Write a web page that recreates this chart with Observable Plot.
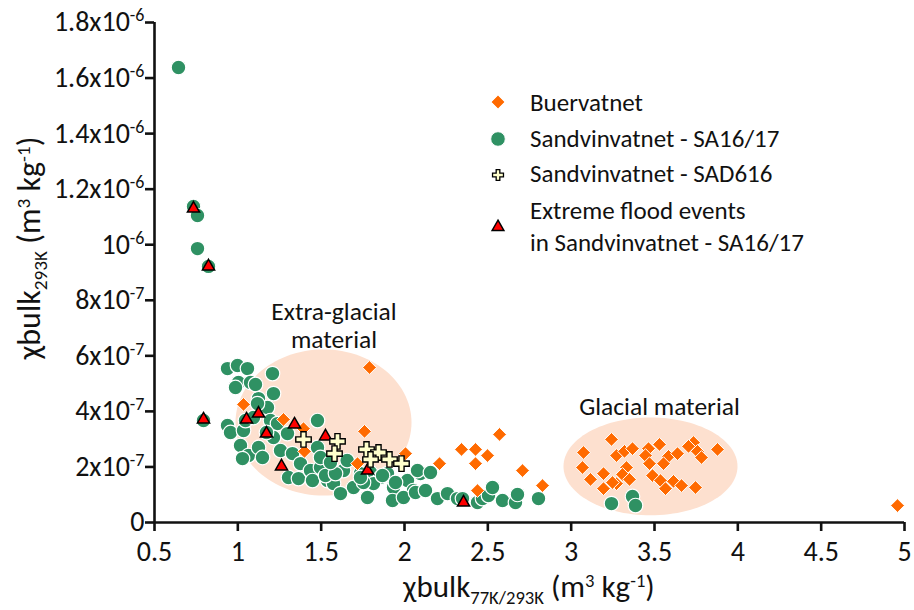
<!DOCTYPE html>
<html><head><meta charset="utf-8">
<script src="https://cdn.jsdelivr.net/npm/d3@7"></script>
<script src="https://cdn.jsdelivr.net/npm/@observablehq/plot@0.6"></script>
<style>
body{margin:0;background:#fff;}
#chart{position:relative;width:914px;height:610px;}
</style></head><body><div id="chart"></div>
<script>
// values: x = χbulk 77K/293K ; y = χbulk 293K in units of 1e-7 m3 kg-1
const buerX = [1.034,1.274,1.394,1.400,1.790,1.760,1.718,2.006,2.210,2.342,2.426,2.498,2.570,2.426,2.708,2.828,2.438,4.958,
  3.074,3.242,3.068,3.116,3.194,3.194,3.272,3.320,3.368,3.332,3.308,3.272,3.350,3.248,3.464,3.446,3.530,3.470,3.584,3.638,3.554,3.488,3.536,3.566,3.614,3.662,3.734,3.704,3.758,3.782,3.878,3.746];
const buerY = [4.25,3.71,3.38,2.56,5.58,3.28,2.12,2.48,2.12,2.63,2.63,2.41,3.17,2.12,1.87,1.33,1.15,0.61,
  2.52,2.99,1.98,1.55,1.76,1.22,2.41,2.56,2.66,1.98,1.73,1.40,1.55,1.44,2.66,2.41,2.81,2.12,2.38,2.48,2.12,1.69,1.51,1.22,1.48,1.33,2.88,2.74,2.56,2.34,2.63,1.26];

const saX = [0.644,0.734,0.758,0.758,0.824,0.794,0.938,0.998,1.058,1.004,1.076,1.106,1.208,1.124,1.214,1.178,0.986,
  0.938,0.956,1.034,1.046,1.094,1.118,1.196,1.238,1.214,1.298,1.016,1.064,1.028,1.124,1.148,1.256,1.328,1.376,1.304,1.364,1.436,
  1.478,1.478,1.496,1.448,1.538,1.574,1.634,1.694,1.736,1.796,1.856,1.898,1.934,2.018,2.054,2.096,1.928,1.994,1.814,1.778,1.616,
  1.496,1.526,1.586,1.754,1.868,1.946,2.078,2.156,2.066,2.126,2.198,2.258,2.318,2.348,2.438,2.468,2.504,2.528,2.588,2.666,2.678,2.804,
  3.242,3.368,3.386,1.172,1.736,1.656,1.556];
const saY = [16.38,11.38,11.05,9.86,9.22,3.67,5.54,5.65,5.54,5.04,5.04,4.97,5.36,4.46,4.64,4.14,4.86,
  3.49,3.24,3.31,3.67,3.78,4.28,3.67,3.56,3.06,3.20,2.77,2.41,2.30,2.70,2.34,2.59,2.48,2.12,1.62,1.58,1.87,
  3.67,2.70,1.98,1.51,1.51,1.40,1.87,1.26,1.76,1.80,1.62,1.76,1.26,1.51,1.15,1.76,0.79,0.90,1.40,0.90,1.04,
  2.34,1.69,1.76,1.44,1.69,1.44,1.87,1.80,1.08,1.15,0.86,1.04,0.86,0.86,0.72,0.86,0.97,1.26,0.79,0.72,1.01,0.86,
  0.68,0.94,0.61,3.24,1.62,2.23,2.16];

const sadX = [1.394,1.598,1.580,1.772,1.844,1.796,1.910,1.982];
const sadY = [2.99,2.92,2.48,2.63,2.52,2.27,2.27,2.12];

const floodX = [0.734,0.824,0.794,1.052,1.124,1.172,1.340,1.526,1.262,1.778,2.354];
const floodY = [11.30,9.22,3.71,3.71,3.92,3.20,3.53,3.10,2.02,1.87,0.72];

// shaded regions (ellipses) : centre and semi-axes
const regionLabels = ["Extra-glacial\nmaterial", "Glacial material"];
const regionCX = [1.514, 3.476];
const regionCY = [3.60, 2.02];
const regionRX = [0.528, 0.522];
const regionRY = [2.63, 1.76];
const regionLabelX = [1.577, 3.53];
const regionLabelY = [7.11, 4.18];

const xTicks = [0.5,1,1.5,2,2.5,3,3.5,4,4.5,5];
const yTicks = [0,2,4,6,8,10,12,14,16,18];
const yTickMant = ["0","2x10","4x10","6x10","8x10","10","1.2x10","1.4x10","1.6x10","1.8x10"];
const yTickExp  = ["","-7","-7","-7","-7","-6","-6","-6","-6","-6"];

const legendLabels = [["Buervatnet"],["Sandvinvatnet - SA16/17"],["Sandvinvatnet - SAD616"],["Extreme flood events","in Sandvinvatnet - SA16/17"]];

const FONT = "Carlito, Calibri, Lato, 'Open Sans', sans-serif";
const GREEN = "#2f9163", ORANGE = "#ff6a00", RED = "#ff0000", CREAM = "#ffffcc", PEACH = "#fde0cf";

const toPts = (xs, ys) => xs.map((x, i) => ({x, y: ys[i]}));
const buer = toPts(buerX, buerY), sa = toPts(saX, saY), sad = toPts(sadX, sadY), flood = toPts(floodX, floodY);

const ellipsePts = [];
regionCX.forEach((cx, k) => {
  for (let i = 0; i <= 120; i++) {
    const t = i / 120 * 2 * Math.PI;
    ellipsePts.push({k, x: cx + regionRX[k] * Math.cos(t), y: regionCY[k] + regionRY[k] * Math.sin(t)});
  }
});
const regionText = regionLabels.map((t, i) => ({t, x: regionLabelX[i], y: regionLabelY[i]}));

const chart = Plot.plot({
  width: 914, height: 610,
  marginLeft: 154, marginRight: 10, marginTop: 22, marginBottom: 88,
  style: {fontFamily: FONT, fontSize: "28px", color: "#111", background: "#fff"},
  x: {domain: [0.5, 5], ticks: xTicks},
  y: {domain: [0, 18], ticks: yTicks},
  marks: [
    Plot.line(ellipsePts, {x: "x", y: "y", z: "k", fill: PEACH, stroke: "none"}),
    Plot.dot(sa, {x: "x", y: "y", r: 7.3, fill: GREEN, stroke: "white", strokeWidth: 1.2}),
    Plot.dot(buer, {x: "x", y: "y", symbol: "diamond2", r: 6.2, fill: ORANGE, stroke: "white", strokeWidth: 1}),
    Plot.dot(flood, {x: "x", y: "y", symbol: "triangle2", r: 5.8, fill: RED, stroke: "black", strokeWidth: 1.5}),
    Plot.dot(sad, {x: "x", y: "y", symbol: "cross", r: 6.5, fill: CREAM, stroke: "black", strokeWidth: 1.4}),
    Plot.text(regionText, {x: "x", y: "y", text: "t", fontSize: 25.5, lineHeight: 1.1, fill: "#111"}),
    Plot.ruleY([0], {x1: 0.5, x2: 5, strokeWidth: 2.6}),
    Plot.ruleX([0.5], {y1: 0, y2: 18, strokeWidth: 2.6}),
    Plot.axisX({ticks: xTicks, tickSize: 9, strokeWidth: 2.6, tickPadding: 10, tickFormat: d => String(d), label: null}),
    Plot.axisY({ticks: yTicks, tickSize: 9, strokeWidth: 2.6, tickPadding: 1, label: null,
      tickFormat: d => { const i = yTicks.indexOf(d); return yTickMant[i] + (yTickExp[i] ? "^" + yTickExp[i] : ""); }})
  ]
});

const svg = d3.select(chart);
svg.selectAll('g[aria-label="y-axis tick label"] text').each(function() {
  const parts = this.textContent.split("^");
  const s = d3.select(this); s.text(null);
  s.append("tspan").text(parts[0]);
  if (parts[1]) s.append("tspan").attr("dy", -10).attr("font-size", 18).text(parts[1]);
});

function richText(g, pieces, size) {
  let cur = 0;
  for (const [t, kind] of pieces) {
    const target = kind === "sub" ? 7 : kind === "sup" ? -10 : 0;
    g.append("tspan").attr("dy", target - cur).attr("font-size", kind === "n" ? size : size * 0.6).text(t);
    cur = target;
  }
}
const xt = svg.append("text").attr("x", 529).attr("y", 597).attr("text-anchor", "middle")
  .attr("font-family", FONT).attr("font-size", 31).attr("fill", "#111");
richText(xt, [["χbulk","n"],["77K/293K","sub"],[" (m","n"],["3","sup"],[" kg","n"],["-1","sup"],[")","n"]], 31);
const yt = svg.append("text").attr("transform", "translate(40,248) rotate(-90)").attr("text-anchor", "middle")
  .attr("font-family", FONT).attr("font-size", 32).attr("fill", "#111");
richText(yt, [["χbulk","n"],["293K","sub"],[" (m","n"],["3","sup"],[" kg","n"],["-1","sup"],[")","n"]], 32);

// legend
const lg = svg.append("g").attr("font-family", FONT).attr("font-size", 25).attr("fill", "#111").attr("text-anchor", "start");
const legSym = [
  {sym: d3.symbolDiamond2, size: Math.PI*6.2*6.2, fill: ORANGE, stroke: "white", sw: 1, y: 102},
  {sym: d3.symbolCircle, size: Math.PI*7.3*7.3, fill: GREEN, stroke: "white", sw: 1, y: 139},
  {sym: d3.symbolCross, size: Math.PI*4.6*4.6, fill: CREAM, stroke: "black", sw: 1.3, y: 175},
  {sym: d3.symbolTriangle2, size: Math.PI*5.6*5.6, fill: RED, stroke: "black", sw: 1.5, y: 227}
];
const legTextY = [[111],[147],[182],[219,251]];
legSym.forEach((s, i) => {
  lg.append("path").attr("d", d3.symbol(s.sym, s.size)()).attr("transform", `translate(498,${s.y})`)
    .attr("fill", s.fill).attr("stroke", s.stroke).attr("stroke-width", s.sw);
  legendLabels[i].forEach((line, j) => lg.append("text").attr("x", 530).attr("y", legTextY[i][j]).text(line));
});

document.getElementById("chart").appendChild(chart);
</script></body></html>
